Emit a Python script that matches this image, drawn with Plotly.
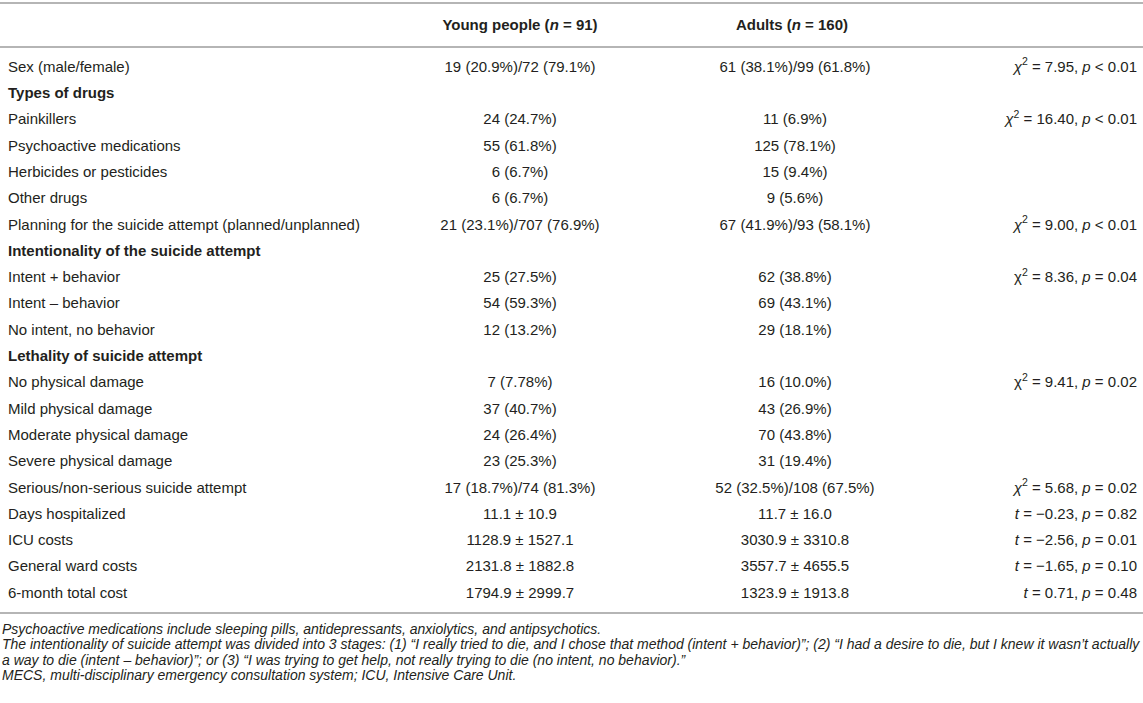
import plotly.graph_objects as go

# table content
labels = [
    "Sex (male/female)", "Types of drugs", "Painkillers", "Psychoactive medications",
    "Herbicides or pesticides", "Other drugs",
    "Planning for the suicide attempt (planned/unplanned)",
    "Intentionality of the suicide attempt", "Intent + behavior", "Intent – behavior",
    "No intent, no behavior", "Lethality of suicide attempt", "No physical damage",
    "Mild physical damage", "Moderate physical damage", "Severe physical damage",
    "Serious/non-serious suicide attempt", "Days hospitalized", "ICU costs",
    "General ward costs", "6-month total cost",
]
section_rows = ["Types of drugs", "Intentionality of the suicide attempt",
                "Lethality of suicide attempt"]

young = [
    "19 (20.9%)/72 (79.1%)", "", "24 (24.7%)", "55 (61.8%)", "6 (6.7%)", "6 (6.7%)",
    "21 (23.1%)/707 (76.9%)", "", "25 (27.5%)", "54 (59.3%)", "12 (13.2%)", "",
    "7 (7.78%)", "37 (40.7%)", "24 (26.4%)", "23 (25.3%)", "17 (18.7%)/74 (81.3%)",
    "11.1 ± 10.9", "1128.9 ± 1527.1", "2131.8 ± 1882.8", "1794.9 ± 2999.7",
]
adults = [
    "61 (38.1%)/99 (61.8%)", "", "11 (6.9%)", "125 (78.1%)", "15 (9.4%)", "9 (5.6%)",
    "67 (41.9%)/93 (58.1%)", "", "62 (38.8%)", "69 (43.1%)", "29 (18.1%)", "",
    "16 (10.0%)", "43 (26.9%)", "70 (43.8%)", "31 (19.4%)", "52 (32.5%)/108 (67.5%)",
    "11.7 ± 16.0", "3030.9 ± 3310.8", "3557.7 ± 4655.5", "1323.9 ± 1913.8",
]
stats = [
    "<i>χ</i><sup>2</sup> = 7.95, <i>p</i> &lt; 0.01", "",
    "<i>χ</i><sup>2</sup> = 16.40, <i>p</i> &lt; 0.01", "", "", "",
    "<i>χ</i><sup>2</sup> = 9.00, <i>p</i> &lt; 0.01", "",
    "χ<sup>2</sup> = 8.36, <i>p</i> = 0.04", "", "", "",
    "χ<sup>2</sup> = 9.41, <i>p</i> = 0.02", "", "", "",
    "<i>χ</i><sup>2</sup> = 5.68, <i>p</i> = 0.02",
    "<i>t</i> = −0.23, <i>p</i> = 0.82", "<i>t</i> = −2.56, <i>p</i> = 0.01",
    "<i>t</i> = −1.65, <i>p</i> = 0.10", "<i>t</i> = 0.71, <i>p</i> = 0.48",
]
headers = ["<b>Young people (<i>n</i> = 91)</b>", "<b>Adults (<i>n</i> = 160)</b>"]

footnotes = [
    "Psychoactive medications include sleeping pills, antidepressants, anxiolytics, and antipsychotics.",
    "The intentionality of suicide attempt was divided into 3 stages: (1) “I really tried to die, and I chose that method (intent + behavior)”; (2) “I had a desire to die, but I knew it wasn’t actually",
    "a way to die (intent – behavior)”; or (3) “I was trying to get help, not really trying to die (no intent, no behavior).”",
    "MECS, multi-disciplinary emergency consultation system; ICU, Intensive Care Unit.",
]

W, H = 1143, 703
first_row_px = 68
row_px = 26.3
font = "Liberation Sans, Arial, sans-serif"
txt_color = "#231f20"
line_color = "#b5b5b5"
fs = 15


def row_of(px):
    return (px - first_row_px) / row_px


label_text = [f"<b>{l}</b>" if l in section_rows else l for l in labels]

fig = go.Figure()
col_specs = [
    (8, label_text, "middle right"),
    (520, young, "middle center"),
    (795, adults, "middle center"),
    (1137, stats, "middle left"),
]
for x, texts, pos in col_specs:
    keep = [i for i, t in enumerate(texts) if t]
    fig.add_trace(go.Scatter(
        x=[x] * len(keep), y=keep, text=[texts[i] for i in keep],
        mode="text", textposition=pos,
        textfont=dict(family=font, size=fs, color=txt_color),
        hoverinfo="skip", showlegend=False,
    ))

# header row
header_y = row_of(26.5)
fig.add_trace(go.Scatter(
    x=[520, 792], y=[header_y, header_y], text=headers, mode="text",
    textposition="middle center",
    textfont=dict(family=font, size=fs, color=txt_color),
    hoverinfo="skip", showlegend=False,
))

# rules
for px in [3, 47, 613]:
    fig.add_shape(type="line", xref="paper", x0=0, x1=1, y0=row_of(px), y1=row_of(px),
                  line=dict(color=line_color, width=2))

# footnotes
for i, note in enumerate(footnotes):
    fig.add_annotation(
        x=0, xref="paper", y=row_of(629 + i * 15.4), yref="y", text=f"<i>{note}</i>",
        showarrow=False, xanchor="left", yanchor="middle",
        font=dict(family=font, size=14, color=txt_color),
    )

fig.update_layout(
    width=W, height=H,
    margin=dict(l=0, r=0, t=0, b=0),
    paper_bgcolor="white", plot_bgcolor="white",
    xaxis=dict(range=[0, W], visible=False, fixedrange=True),
    yaxis=dict(range=[row_of(H), row_of(0)], visible=False, fixedrange=True),
)
fig.write_html("out.html", config={"displayModeBar": False},
               post_script="document.body.style.margin='0';")
